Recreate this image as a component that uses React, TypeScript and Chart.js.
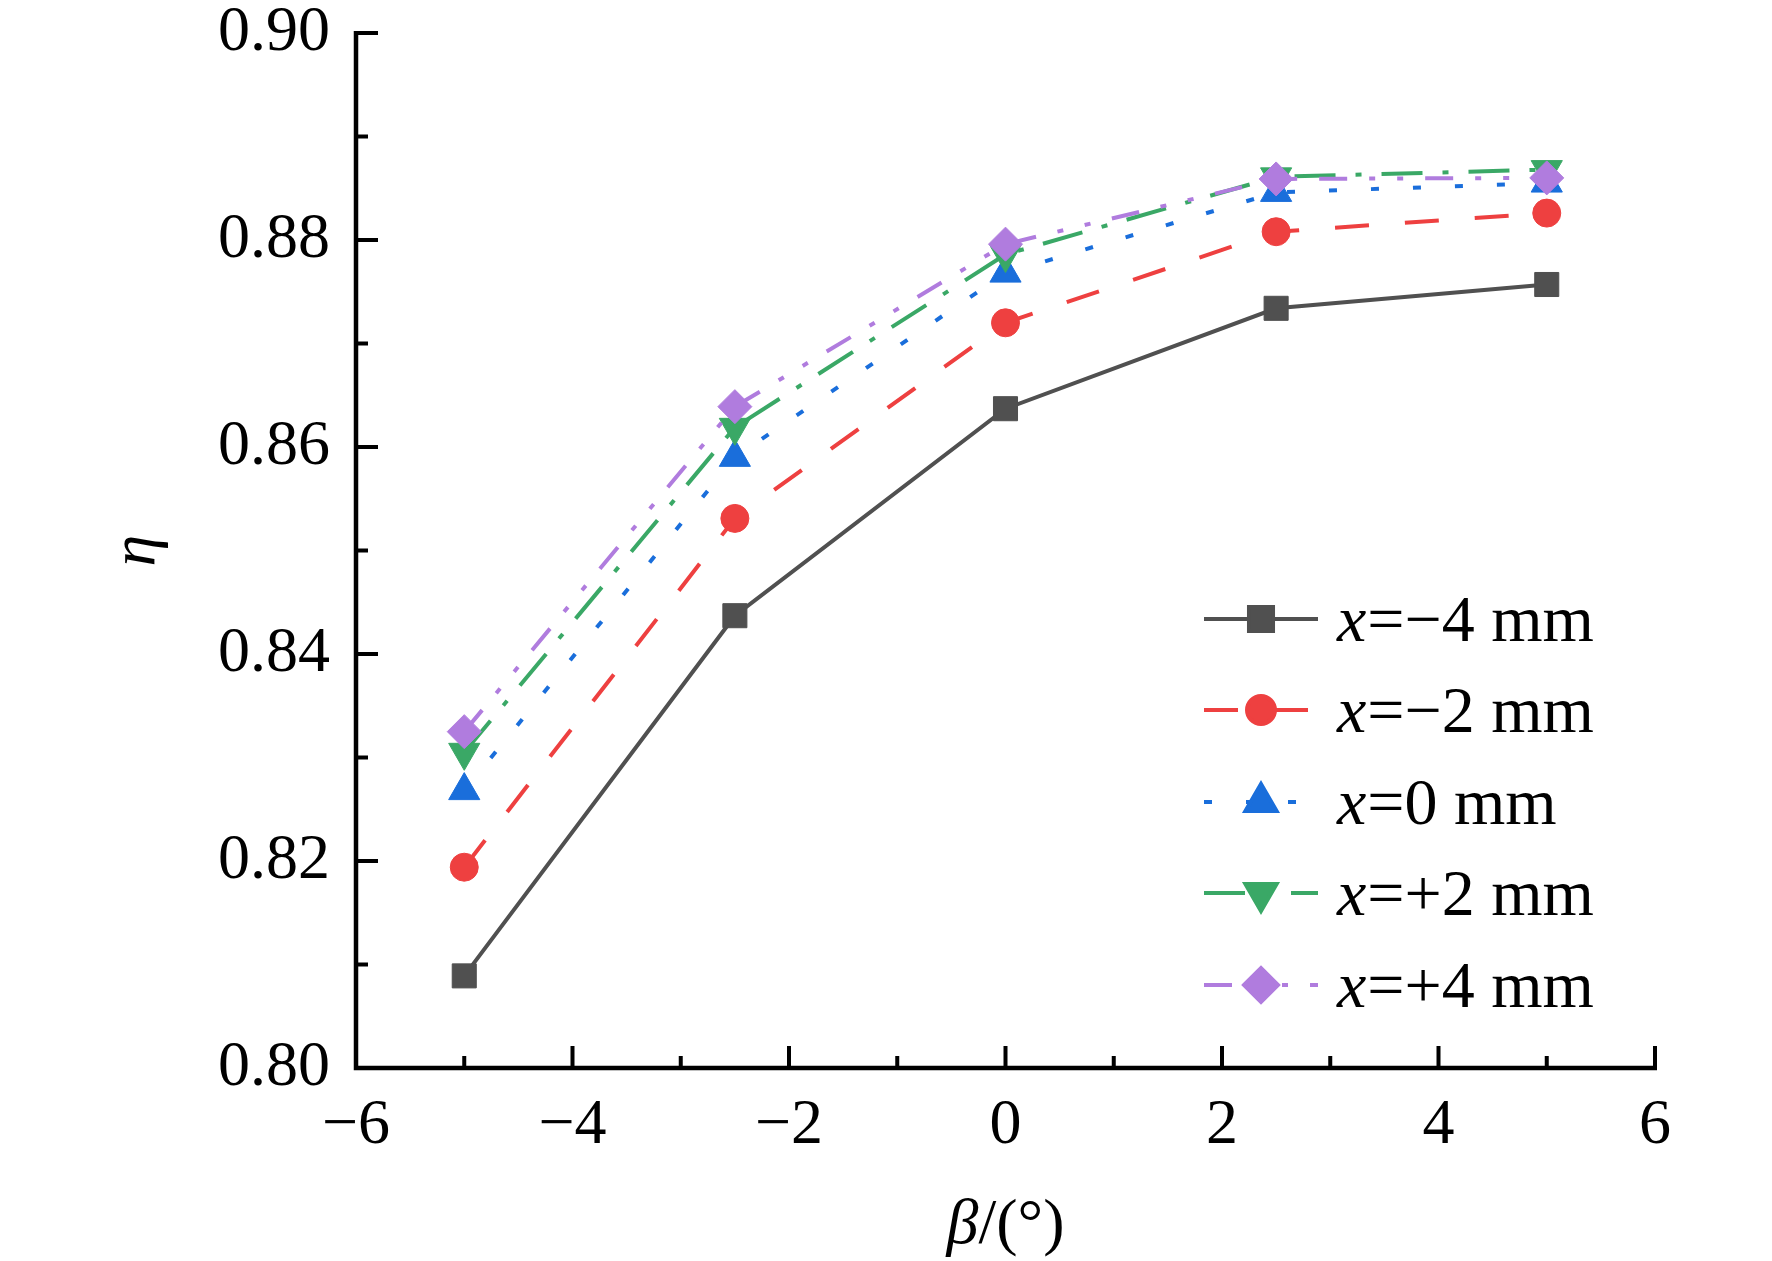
import React, { useEffect, useRef } from 'react';
import { Chart, registerables } from 'chart.js';
import { drawPoint } from 'chart.js/helpers';

Chart.register(...registerables);

// ---- data ----
const betaValues = [-5, -2.5, 0, 2.5, 5];
const seriesLabels = ['x=−4 mm', 'x=−2 mm', 'x=0 mm', 'x=+2 mm', 'x=+4 mm'];
const etaXm4 = [0.8089, 0.8437, 0.8637, 0.8734, 0.8757];
const etaXm2 = [0.8194, 0.8531, 0.872, 0.8808, 0.8826];
const etaX0 = [0.8268, 0.859, 0.8768, 0.8846, 0.8855];
const etaXp2 = [0.8305, 0.8619, 0.8786, 0.8861, 0.8868];
const etaXp4 = [0.8325, 0.8639, 0.8796, 0.8859, 0.886];
const yMajorTicks = [0.8, 0.82, 0.84, 0.86, 0.88, 0.9];
const yMinorTicks = [0.81, 0.83, 0.85, 0.87, 0.89];
const xMajorTicks = [-6, -4, -2, 0, 2, 4, 6];
const xMinorTicks = [-5, -3, -1, 1, 3, 5];

const FONT = '"Liberation Serif", "Times New Roman", serif';

const styles = [
  { color: '#505050', dash: [] as number[], pointStyle: 'rect', radius: 17, rotation: 0 },
  { color: '#EE4040', dash: [34, 36], pointStyle: 'circle', radius: 14, rotation: 0 },
  { color: '#1A6EDB', dash: [8, 34], pointStyle: 'triangle', radius: 18, rotation: 0 },
  { color: '#3AA866', dash: [41, 20, 6, 20], pointStyle: 'triangle', radius: 18, rotation: 180 },
  { color: '#B07CDE', dash: [28, 22, 6, 22, 6, 22], pointStyle: 'rectRot', radius: 17, rotation: 0 },
];

const seriesValues = [etaXm4, etaXm2, etaX0, etaXp2, etaXp4];

const decorPlugin = {
  id: 'decor',
  afterDraw(chart: any) {
    const ctx = chart.ctx as CanvasRenderingContext2D;
    const xs = chart.scales.x;
    const ys = chart.scales.y;
    const a = chart.chartArea;
    ctx.save();
    ctx.strokeStyle = '#000';
    ctx.fillStyle = '#000';
    // axis lines
    ctx.lineWidth = 4.5;
    ctx.lineCap = 'butt';
    ctx.beginPath();
    ctx.moveTo(a.left, a.top - 2);
    ctx.lineTo(a.left, a.bottom + 2.25);
    ctx.moveTo(a.left - 2.25, a.bottom);
    ctx.lineTo(a.right + 2, a.bottom);
    ctx.stroke();
    // ticks
    ctx.lineWidth = 4;
    ctx.beginPath();
    yMajorTicks.forEach((v) => {
      const p = ys.getPixelForValue(v);
      ctx.moveTo(a.left, p);
      ctx.lineTo(a.left + 22, p);
    });
    yMinorTicks.forEach((v) => {
      const p = ys.getPixelForValue(v);
      ctx.moveTo(a.left, p);
      ctx.lineTo(a.left + 12, p);
    });
    xMajorTicks.forEach((v) => {
      const p = xs.getPixelForValue(v);
      ctx.moveTo(p, a.bottom);
      ctx.lineTo(p, a.bottom - 22);
    });
    xMinorTicks.forEach((v) => {
      const p = xs.getPixelForValue(v);
      ctx.moveTo(p, a.bottom);
      ctx.lineTo(p, a.bottom - 12);
    });
    ctx.stroke();

    // axis titles
    const cx = (a.left + a.right) / 2;
    const cy = (a.top + a.bottom) / 2;
    ctx.textBaseline = 'alphabetic';
    ctx.font = `italic 64px ${FONT}`;
    const wBeta = ctx.measureText('β').width;
    ctx.font = `64px ${FONT}`;
    const wRest = ctx.measureText('/(°)').width;
    const startX = cx - (wBeta + wRest) / 2;
    ctx.textAlign = 'left';
    ctx.font = `italic 64px ${FONT}`;
    ctx.fillText('β', startX, 1243);
    ctx.font = `64px ${FONT}`;
    ctx.fillText('/(°)', startX + wBeta, 1243);

    ctx.save();
    ctx.translate(154, cy);
    ctx.rotate(-Math.PI / 2);
    ctx.textAlign = 'center';
    ctx.font = `italic 64px ${FONT}`;
    ctx.fillText('η', 0, 0);
    ctx.restore();

    // legend
    const rows = [619, 710, 802, 893, 985];
    chart.data.datasets.forEach((ds: any, i: number) => {
      const st = styles[i];
      const ry = rows[i];
      ctx.save();
      ctx.strokeStyle = st.color;
      ctx.lineWidth = 4;
      ctx.setLineDash(st.dash);
      ctx.lineDashOffset = 0;
      ctx.beginPath();
      ctx.moveTo(1204, ry);
      ctx.lineTo(1318, ry);
      ctx.stroke();
      ctx.setLineDash([]);
      ctx.fillStyle = st.color;
      ctx.strokeStyle = st.color;
      drawPoint(ctx, { pointStyle: st.pointStyle as any, radius: st.radius, rotation: st.rotation, borderWidth: 1 } as any, 1261, ry);
      ctx.restore();
      const label: string = ds.label;
      ctx.fillStyle = '#000';
      ctx.textAlign = 'left';
      ctx.textBaseline = 'alphabetic';
      ctx.font = `italic 66px ${FONT}`;
      const first = label.charAt(0);
      ctx.fillText(first, 1337, ry + 22);
      const w = ctx.measureText(first).width;
      ctx.font = `66px ${FONT}`;
      ctx.fillText(label.slice(1), 1337 + w + 1, ry + 22);
    });
    ctx.restore();
  },
};

export default function App() {
  const ref = useRef<HTMLCanvasElement | null>(null);
  useEffect(() => {
    if (!ref.current) return;
    const datasets = seriesValues.map((vals, i) => ({
      label: seriesLabels[i],
      data: betaValues.map((b, j) => ({ x: b, y: vals[j] })),
      borderColor: styles[i].color,
      backgroundColor: styles[i].color,
      borderWidth: 4,
      borderDash: styles[i].dash,
      pointStyle: styles[i].pointStyle,
      pointRadius: styles[i].radius,
      pointHoverRadius: styles[i].radius,
      pointRotation: styles[i].rotation,
      pointBorderWidth: 1,
      pointBackgroundColor: styles[i].color,
      pointBorderColor: styles[i].color,
      tension: 0,
      fill: false,
      order: 5 - i,
      clip: false as any,
    }));
    const chart = new Chart(ref.current, {
      type: 'line',
      data: { datasets: datasets as any },
      options: {
        responsive: false,
        animation: false,
        devicePixelRatio: 1,
        layout: { padding: { top: 33, right: 117, left: 0, bottom: 0 } },
        plugins: { legend: { display: false }, tooltip: { enabled: false } },
        scales: {
          x: {
            type: 'linear',
            min: -6,
            max: 6,
            grid: { display: false, drawTicks: false },
            border: { display: false },
            ticks: {
              stepSize: 2,
              color: '#000',
              padding: 26,
              font: { family: FONT, size: 64, lineHeight: 1.0 },
              maxRotation: 0,
              callback: (v: any) => (Number(v) < 0 ? '−' + Math.abs(Number(v)) : String(v)),
            },
            afterFit: (s: any) => {
              s.height = 193;
              s.paddingLeft = 0;
              s.paddingRight = 0;
            },
          },
          y: {
            type: 'linear',
            min: 0.8,
            max: 0.9,
            grid: { display: false, drawTicks: false },
            border: { display: false },
            ticks: {
              stepSize: 0.02,
              color: '#000',
              padding: 26,
              font: { family: FONT, size: 64, lineHeight: 1.0 },
              callback: (v: any) => Number(v).toFixed(2),
            },
            afterFit: (s: any) => {
              s.width = 356;
              s.paddingTop = 0;
              s.paddingBottom = 0;
            },
          },
        },
      },
      plugins: [decorPlugin],
    });
    return () => chart.destroy();
  }, []);
  return (
    <div style={{ position: 'absolute', left: 0, top: 0, width: 1772, height: 1261, background: '#fff' }}>
      <canvas ref={ref} width={1772} height={1261} style={{ display: 'block', width: 1772, height: 1261 }} />
    </div>
  );
}
